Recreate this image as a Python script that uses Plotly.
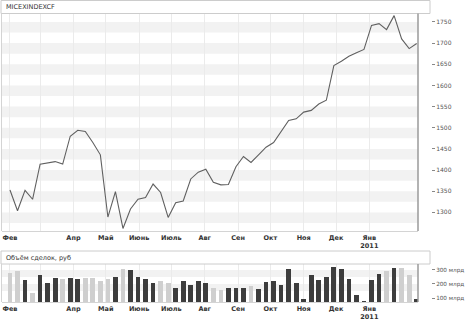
import plotly.graph_objects as go
import pandas as pd

# ---- data ----
title_main = "MICEXINDEXCF"
title_vol = "Объём сделок, руб"
close = [1353, 1304, 1352, 1331, 1414, 1417, 1420, 1414, 1480, 1494,
         1491, 1465, 1436, 1289, 1349, 1262, 1308, 1331, 1335, 1367,
         1347, 1288, 1323, 1327, 1379, 1395, 1402, 1371, 1365, 1366,
         1408, 1432, 1418, 1436, 1454, 1465, 1491, 1517, 1521, 1537,
         1541, 1556, 1565, 1647, 1657, 1669, 1677, 1685, 1742, 1746,
         1732, 1765, 1710, 1687, 1699]
volume = [279, 295, 225, 138, 267, 208, 244, 237, 244, 234,
          244, 244, 223, 232, 248, 307, 302, 248, 232, 206,
          218, 206, 170, 218, 196, 223, 206, 175, 159, 170,
          170, 170, 189, 166, 213, 223, 196, 307, 207, 91,
          265, 227, 248, 323, 307, 237, 124, 77, 230, 272,
          290, 314, 314, 265, 91]
dates = pd.date_range("2010-02-01", periods=len(close), freq="7D")
month_ticks = ["2010-02-01", "2010-03-01", "2010-04-01", "2010-05-01", "2010-06-01",
               "2010-07-01", "2010-08-01", "2010-09-01", "2010-10-01", "2010-11-01",
               "2010-12-01", "2011-01-01"]
month_labels = ["Фев", "", "Апр", "Май", "Июнь", "Июль", "Авг", "Сен", "Окт", "Ноя",
                "Дек", "Янв<br>2011"]
price_ticks = [1300, 1350, 1400, 1450, 1500, 1550, 1600, 1650, 1700, 1750]
vol_ticks = [100, 200, 300]
vol_labels = ["100 млрд", "200 млрд", "300 млрд"]

# ---- styling ----
W, H = 466, 321
LIGHT, DARK = "#cfcfcf", "#3d3d3d"
bar_colors = [LIGHT] + [DARK if close[i] > close[i - 1] else LIGHT for i in range(1, len(close))]

def px(x):
    return x / W

def py(y):
    return 1 - y / H

FONT = "DejaVu Sans"
x_left, x_right = 2, 418
main_top, main_bot = 13.5, 231
vol_top, vol_bot = 264, 302
xrange = ["2010-01-24 14:00", "2011-02-15 05:00"]
price_range = [1256, 1770]
vol_range = [72, 342]

fig = go.Figure()
fig.add_trace(go.Scatter(x=dates, y=close, mode="lines",
                         line=dict(color="#606060", width=1.1),
                         xaxis="x", yaxis="y", hoverinfo="skip"))
fig.add_trace(go.Bar(x=dates, y=volume, marker=dict(color=bar_colors, line=dict(width=0)),
                     width=4.4 * 86400000, xaxis="x2", yaxis="y2", hoverinfo="skip"))

xcommon = dict(type="date", range=xrange, tickmode="array", tickvals=month_ticks,
               ticktext=month_labels, showgrid=True, gridcolor="#ebebeb", gridwidth=1,
               ticks="", showline=True, linecolor="#d4d4d4", linewidth=1, zeroline=False,
               tickfont=dict(family=FONT, size=6.5, color="#333", weight="bold"),
               domain=[px(x_left), px(x_right)], automargin=False)
ycommon = dict(side="right", anchor="free", position=px(431), ticks="outside", ticklen=3,
               tickcolor="#888", tickwidth=1, showgrid=False, zeroline=False, showline=False,
               automargin=False, tickmode="array")

fig.update_layout(
    width=W, height=H, margin=dict(l=0, r=0, t=0, b=0),
    paper_bgcolor="white", plot_bgcolor="white", showlegend=False,
    xaxis=dict(**xcommon, anchor="y"),
    xaxis2=dict(**xcommon, anchor="y2"),
    yaxis=dict(**ycommon, domain=[py(main_bot), py(main_top)], range=price_range,
               tickvals=price_ticks, tickfont=dict(family=FONT, size=6, color="#555")),
    yaxis2=dict(**ycommon, domain=[py(vol_bot), py(vol_top)], range=vol_range,
                tickvals=vol_ticks, ticktext=vol_labels,
                tickfont=dict(family=FONT, size=5.7, color="#555")),
    bargap=0,
)

shapes = []
# alternating bands
for t in price_ticks:
    shapes.append(dict(type="rect", xref="x domain", yref="y", x0=0, x1=1, y0=t - 25, y1=t,
                       fillcolor="#f2f2f2", line=dict(width=0), layer="below"))
for t in [200, 300]:
    shapes.append(dict(type="rect", xref="x2 domain", yref="y2", x0=0, x1=1, y0=t - 50, y1=t,
                       fillcolor="#f2f2f2", line=dict(width=0), layer="below"))
# header boxes
for (t0, t1) in [(0.5, main_top), (251, vol_top)]:
    shapes.append(dict(type="rect", xref="paper", yref="paper", x0=px(1), x1=px(430),
                       y0=py(t1), y1=py(t0), line=dict(color="#cccccc", width=1),
                       fillcolor="rgba(0,0,0,0)", layer="above"))
# left borders and right darker lines
for (t0, t1) in [(main_top, main_bot), (vol_top, vol_bot)]:
    shapes.append(dict(type="line", xref="paper", yref="paper", x0=px(1.5), x1=px(1.5),
                       y0=py(t1), y1=py(t0), line=dict(color="#d4d4d4", width=1)))
    shapes.append(dict(type="line", xref="paper", yref="paper", x0=px(418), x1=px(418),
                       y0=py(t1), y1=py(t0), line=dict(color="#9a9a9a", width=1.5)))
fig.update_layout(shapes=shapes)

fig.add_annotation(text=title_main, xref="paper", yref="paper", x=px(4), y=py(7),
                   xanchor="left", yanchor="middle", showarrow=False,
                   font=dict(family=FONT, size=6.5, color="#333"))
fig.add_annotation(text=title_vol, xref="paper", yref="paper", x=px(4), y=py(258),
                   xanchor="left", yanchor="middle", showarrow=False,
                   font=dict(family=FONT, size=6.5, color="#333"))

fig.write_html("out.html")
